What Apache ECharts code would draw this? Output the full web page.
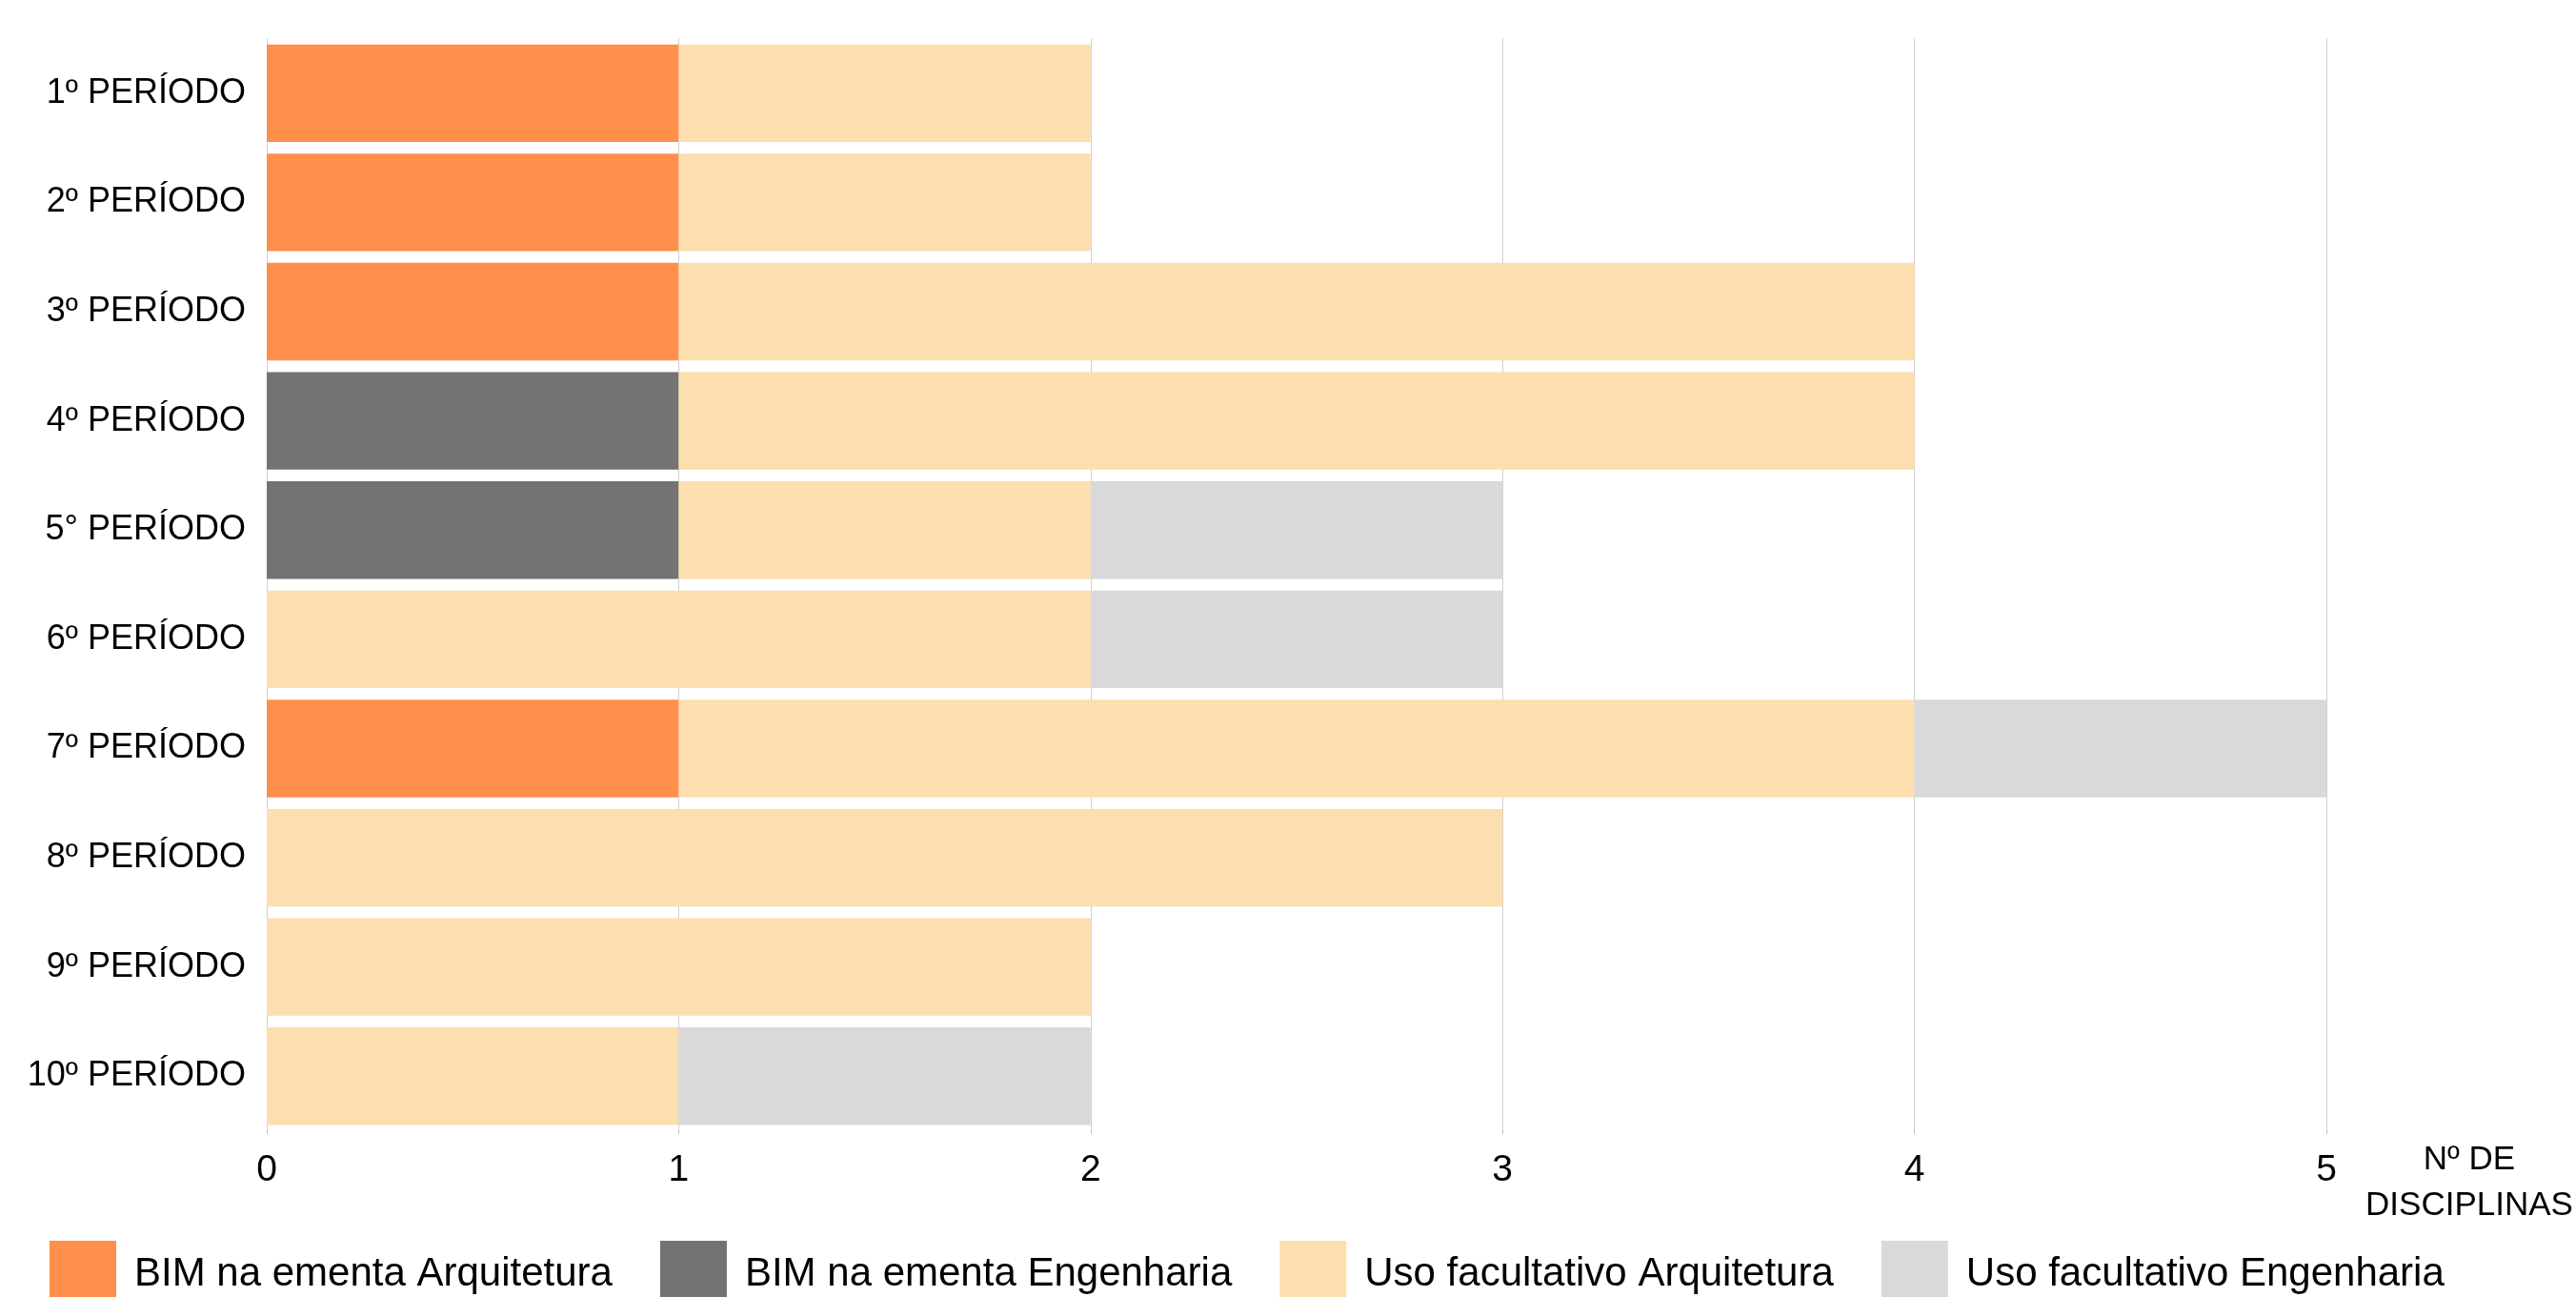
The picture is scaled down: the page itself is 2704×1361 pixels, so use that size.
<!DOCTYPE html>
<html>
<head>
<meta charset="utf-8">
<script src="https://cdn.jsdelivr.net/npm/echarts@6/dist/echarts.min.js"></script>
<style>
  html, body { margin: 0; padding: 0; background: #ffffff; }
  #chart { width: 2704px; height: 1361px; }
</style>
</head>
<body>
<div id="chart"></div>
<script>
const periodos = ['1º PERÍODO', '2º PERÍODO', '3º PERÍODO', '4º PERÍODO', '5° PERÍODO',
  '6º PERÍODO', '7º PERÍODO', '8º PERÍODO', '9º PERÍODO', '10º PERÍODO']
const bimArquitetura = [1, 1, 1, 0, 0, 0, 1, 0, 0, 0]
const bimEngenharia = [0, 0, 0, 1, 1, 0, 0, 0, 0, 0]
const usoArquitetura = [1, 1, 3, 3, 1, 2, 3, 3, 2, 1]
const usoEngenharia = [0, 0, 0, 0, 1, 1, 1, 0, 0, 1]
const xTicks = [0, 1, 2, 3, 4, 5]

const FONT = 'Liberation Sans, Arial, sans-serif'

const chart = echarts.init( document.getElementById( 'chart' ) )

const makeSeries = ( name, color, data ) => ( {
  name : name,
  type : 'bar',
  stack : 'total',
  barCategoryGap : '10.7%',
  itemStyle : { color : color },
  emphasis : { disabled : true },
  data : data
} )

chart.setOption( {
  backgroundColor : '#ffffff',
  animation : false,
  textStyle : { fontFamily : FONT },
  grid : {
    left : 280,
    right : 262,
    top : 40.5,
    bottom : 174.4,
    containLabel : false
  },
  legend : {
    left : 52,
    top : 1302,
    padding : 0,
    itemWidth : 70,
    itemHeight : 70,
    itemGap : 50,
    icon : 'rect',
    selectedMode : false,
    textStyle : {
      fontFamily : FONT,
      fontSize : 42,
      color : '#000000',
      padding : [0, 0, 0, 14]
    },
    data : ['BIM na ementa Arquitetura', 'BIM na ementa Engenharia',
      'Uso facultativo Arquitetura', 'Uso facultativo Engenharia']
  },
  xAxis : {
    type : 'value',
    min : xTicks[0],
    max : xTicks[xTicks.length - 1],
    interval : 1,
    axisLine : { show : false },
    axisTick : {
      show : true,
      length : 3,
      lineStyle : { color : '#b3b3b3' }
    },
    splitLine : {
      show : true,
      lineStyle : { color : '#d0d0d0', width : 1 }
    },
    axisLabel : {
      fontFamily : FONT,
      fontSize : 39,
      color : '#000000',
      margin : 22
    }
  },
  yAxis : {
    type : 'category',
    inverse : true,
    data : periodos,
    axisLine : { show : false },
    axisTick : { show : false },
    axisLabel : {
      fontFamily : FONT,
      fontSize : 36,
      color : '#000000',
      margin : 22
    }
  },
  graphic : [
    {
      type : 'text',
      x : 2592,
      y : 1241,
      style : {
        text : 'Nº DE\nDISCIPLINAS',
        font : '35px ' + FONT,
        fill : '#000000',
        align : 'center',
        verticalAlign : 'middle',
        lineHeight : 48
      }
    }
  ],
  series : [
    makeSeries( 'BIM na ementa Arquitetura', '#ff8f4a', bimArquitetura ),
    makeSeries( 'BIM na ementa Engenharia', '#737373', bimEngenharia ),
    makeSeries( 'Uso facultativo Arquitetura', '#fddeaf', usoArquitetura ),
    makeSeries( 'Uso facultativo Engenharia', '#d9d9d9', usoEngenharia )
  ]
} )
</script>
</body>
</html>
